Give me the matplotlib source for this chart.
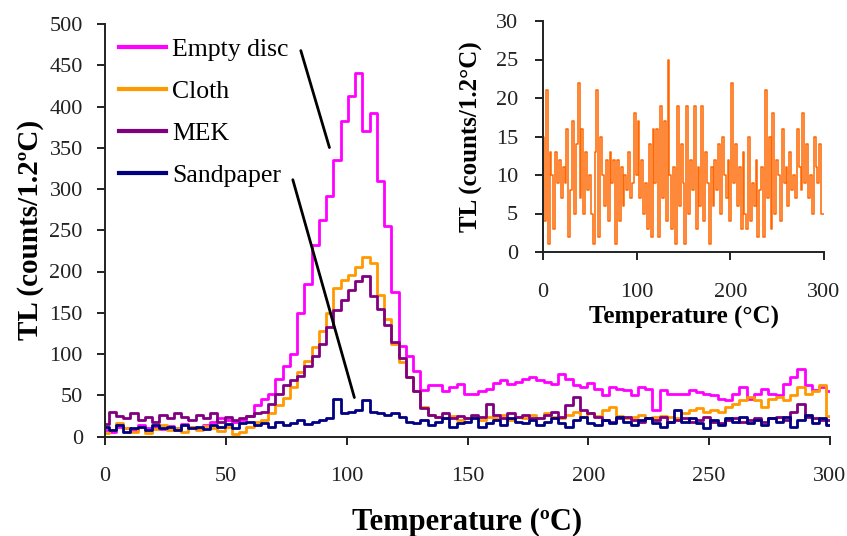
import numpy as np
import matplotlib
matplotlib.use("Agg")
import matplotlib.pyplot as plt

plt.rcParams['font.family'] = ['Liberation Serif', 'DejaVu Serif']

# Glow curves, one reading every 3 degC from 0 to 300 degC
temperature = np.arange(0, 301, 3)

empty_disc = [
    8, 5, 12, 10, 8, 14, 10, 12, 9, 13,
    10, 15, 12, 10, 14, 18, 22, 20, 18, 20,
    25, 38, 45, 52, 70, 85, 100, 150, 185, 232,
    262, 292, 335, 382, 413, 440, 370, 392, 310, 255,
    175, 110, 97, 80, 56, 62, 62, 55, 60, 64,
    52, 52, 55, 58, 65, 68, 64, 66, 70, 72,
    68, 66, 64, 76, 70, 62, 60, 65, 58, 50,
    60, 58, 56, 50, 60, 58, 32, 56, 52, 52,
    52, 56, 54, 52, 50, 46, 44, 52, 60, 46,
    52, 58, 52, 50, 64, 72, 82, 62, 56, 60,
    55,
]

cloth = [
    4, 8, 16, 10, 6, 12, 4, 9, 14, 8,
    10, 6, 12, 8, 13, 10, 7, 12, 3, 6,
    12, 18, 20, 28, 38, 47, 60, 78, 92, 108,
    128, 150, 180, 190, 196, 205, 218, 210, 172, 142,
    112, 90, 72, 55, 36, 26, 24, 22, 25, 20,
    22, 25, 20, 24, 22, 26, 20, 24, 22, 26,
    22, 28, 24, 22, 26, 30, 24, 28, 25, 32,
    36, 25, 22, 24, 26, 22, 24, 25, 24, 22,
    28, 32, 34, 30, 32, 30, 36, 40, 44, 48,
    44, 36, 46, 48, 44, 50, 60, 52, 55, 62,
    25,
]

mek = [
    15, 30, 25, 22, 28, 20, 24, 18, 26, 22,
    28, 24, 20, 26, 22, 28, 18, 24, 20, 22,
    25, 28, 30, 40, 52, 62, 69, 73, 85, 98,
    112, 133, 153, 165, 178, 188, 194, 170, 155, 135,
    115, 95, 72, 55, 35, 26, 24, 28, 22, 25,
    22, 26, 24, 40, 26, 22, 28, 24, 26, 22,
    22, 26, 30, 24, 38, 48, 32, 28, 24, 20,
    18, 22, 24, 20, 18, 22, 20, 24, 18, 20,
    22, 18, 20, 24, 18, 16, 20, 22, 18, 20,
    22, 18, 22, 24, 20, 30, 40, 24, 22, 20,
    20,
]

sandpaper = [
    12, 8, 14, 6, 10, 12, 8, 14, 10, 12,
    8, 14, 10, 12, 9, 14, 11, 15, 10, 16,
    18, 14, 16, 12, 18, 14, 16, 20, 15, 18,
    20, 22, 45, 28, 30, 32, 44, 30, 28, 26,
    28, 24, 18, 16, 20, 14, 18, 22, 12, 16,
    18, 22, 12, 16, 20, 14, 22, 18, 16, 20,
    14, 18, 22, 16, 12, 20, 24, 16, 14, 20,
    16, 24, 18, 14, 20, 22, 16, 12, 18, 32,
    18, 22, 16, 10, 20, 14, 22, 18, 24, 16,
    20, 14, 22, 18, 24, 12, 20, 26, 16, 22,
    14,
]

series = [
    ("Empty disc", empty_disc, "#FF00FF"),
    ("Cloth", cloth, "#FF9900"),
    ("MEK", mek, "#800080"),
    ("Sandpaper", sandpaper, "#000080"),
]

# Inset: background glow curve, one reading every 2 degC
inset_temperature = np.arange(0, 301, 2)
inset_counts = [
    15, 4, 21, 1, 13, 10, 3, 13, 9, 12,
    7, 11, 9, 16, 2, 8, 17, 5, 14, 22,
    7, 16, 5, 13, 8, 10, 5, 1, 13, 21,
    2, 15, 10, 6, 12, 4, 13, 9, 12, 1,
    12, 4, 11, 6, 10, 8, 13, 7, 9, 18,
    10, 17, 7, 12, 5, 9, 3, 14, 2, 16,
    9, 16, 2, 19, 7, 17, 4, 25, 10, 3,
    11, 1, 19, 6, 14, 9, 1, 19, 5, 12,
    8, 19, 3, 11, 6, 19, 4, 13, 9, 1,
    11, 6, 12, 8, 14, 5, 15, 10, 7, 12,
    4, 22, 9, 14, 6, 11, 3, 13, 5, 3,
    15, 4, 9, 6, 12, 2, 8, 11, 2, 21,
    7, 15, 3, 18, 5, 12, 10, 4, 16, 9,
    11, 6, 13, 8, 10, 7, 16, 11, 8, 18,
    9, 14, 7, 10, 5, 15, 11, 9, 14, 5,
    5,
]

main_xticks = [0, 50, 100, 150, 200, 250, 300]
main_yticks = [0, 50, 100, 150, 200, 250, 300, 350, 400, 450, 500]
inset_xticks = [0, 100, 200, 300]
inset_yticks = [0, 5, 10, 15, 20, 25, 30]

W, H = 847, 536
fig = plt.figure(figsize=(W / 100, H / 100), dpi=100)


def style_axes(ax, xpad, ypad):
    for side in ("top", "right"):
        ax.spines[side].set_visible(False)
    for side in ("left", "bottom"):
        ax.spines[side].set_linewidth(1.4)
        ax.spines[side].set_color("#222222")
    ax.tick_params(axis="both", direction="out", length=6, width=1.4,
                   colors="#222222", labelsize=16, labelcolor="#222222")
    ax.tick_params(axis="x", pad=xpad)
    ax.tick_params(axis="y", pad=ypad)


# Main panel
ax = fig.add_axes([105 / W, 1 - 436.5 / H, 725 / W, 412.5 / H])
for name, vals, col in series:
    ax.plot(temperature, vals, color=col, lw=2.0, drawstyle="steps-mid", label=name)
ax.set_xlim(0, 300)
ax.set_ylim(0, 500)
ax.set_xticks(main_xticks)
ax.set_yticks(main_yticks)
style_axes(ax, 16, 10)
ax.set_xlabel("Temperature (ºC)", fontsize=22, fontweight="bold", labelpad=16)
ax.set_ylabel("TL (counts/1.2ºC)", fontsize=21, fontweight="bold", labelpad=4)

leg = ax.legend(loc="upper left", bbox_to_anchor=(0.005, 0.99), frameon=False,
                fontsize=18.5, handlelength=1.85, handletextpad=0.22, labelspacing=0.74,
                borderaxespad=0.0)
for line in leg.get_lines():
    line.set_linewidth(3)

# Leader lines from the legend labels to their curves
ax.annotate("", xy=(93.2, 347), xytext=(80.7, 471),
            arrowprops=dict(arrowstyle="-", color="black", lw=2))
ax.annotate("", xy=(103.5, 44), xytext=(77.4, 314.5),
            arrowprops=dict(arrowstyle="-", color="black", lw=2))

# Inset panel
axi = fig.add_axes([543 / W, 1 - 252 / H, 281 / W, 231 / H])
axi.plot(inset_temperature, inset_counts, color="#FF6600", lw=1.1, drawstyle="steps-mid")
axi.set_xlim(0, 300)
axi.set_ylim(0, 30)
axi.set_xticks(inset_xticks)
axi.set_yticks(inset_yticks)
style_axes(axi, 16, 12)
axi.set_xlabel("Temperature (°C)", fontsize=18, fontweight="bold", labelpad=3)
axi.set_ylabel("TL (counts/1.2°C)", fontsize=18, fontweight="bold", labelpad=9)

fig.savefig("out.png", dpi=100)
